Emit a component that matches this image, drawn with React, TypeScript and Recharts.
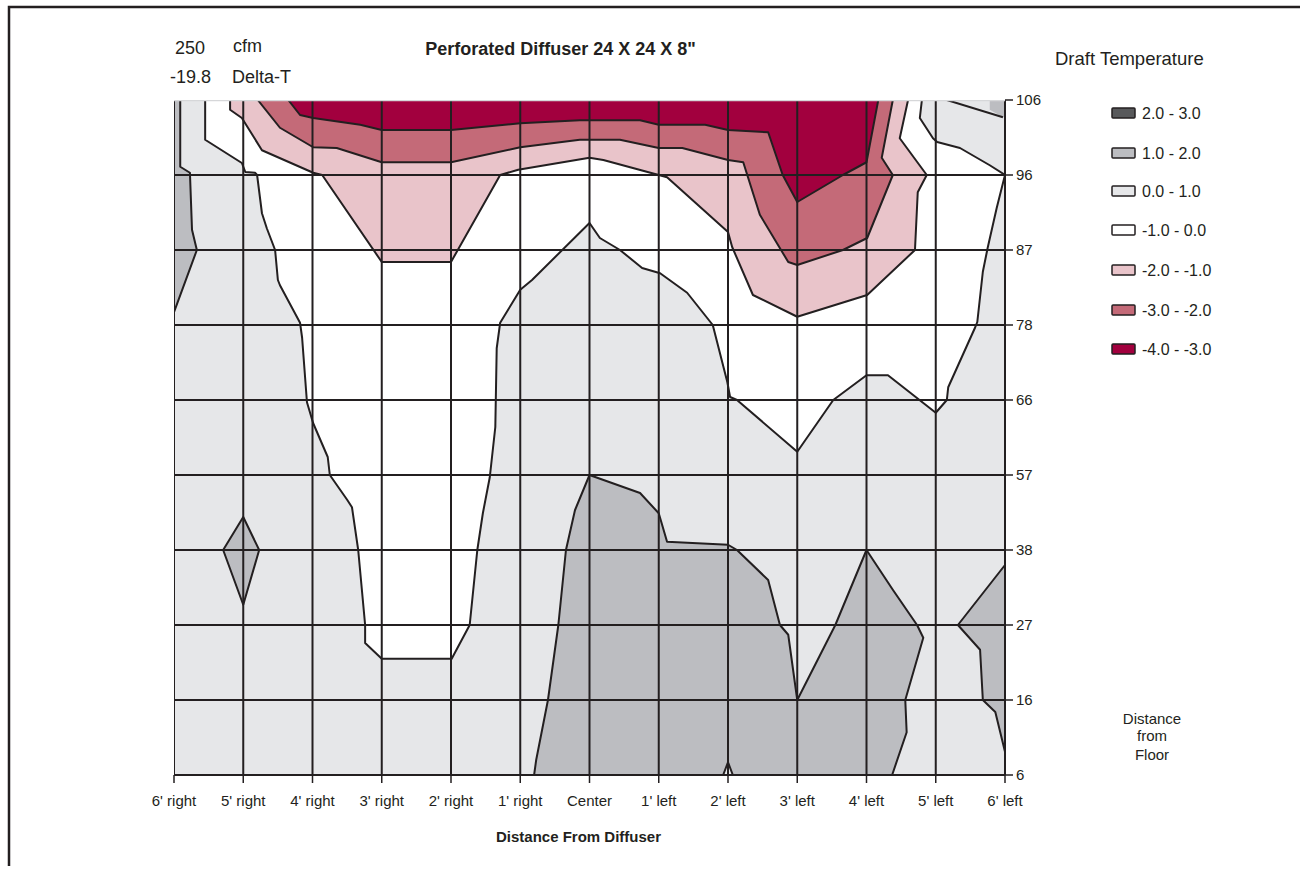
import React from 'react';
import { ComposedChart, Scatter, XAxis, YAxis, Polygon } from 'recharts';

type Pt = [number, number];

// axis categories (x = distance from diffuser, y = distance from floor)
const xLabels = ["6' right", "5' right", "4' right", "3' right", "2' right", "1' right", 'Center', "1' left", "2' left", "3' left", "4' left", "5' left", "6' left"];
const yLabels = ['6', '16', '27', '38', '57', '66', '78', '87', '96', '106'];

const legendLabels = ['2.0 - 3.0', '1.0 - 2.0', '0.0 - 1.0', '-1.0 - 0.0', '-2.0 - -1.0', '-3.0 - -2.0', '-4.0 - -3.0'];

// contour outlines, in (x index, y index) units
const band01: Pt[] = [[0, 0], [12, 0], [12, 9], [0, 9]];

const band12Left: Pt[] = [[0, 9], [0.09, 9], [0.09, 8.11], [0.23, 8.03], [0.26, 7.27], [0.33, 7], [0, 6.17]];
const band12Diamond: Pt[] = [[1, 3.44], [1.23, 3], [1, 2.27], [0.71, 3]];
const band12Center: Pt[] = [
  [5.2, 0], [5.23, 0.2], [5.4, 1], [5.55, 2], [5.66, 3], [5.79, 3.53], [6, 4], [6.73, 3.76], [7, 3.49],
  [7.12, 3.11], [8, 3.07], [8.13, 3], [8.58, 2.6], [8.75, 2], [8.87, 1.87], [9, 1], [9.55, 2], [10, 3],
  [10.38, 2.47], [10.73, 2], [10.82, 1.83], [10.56, 1], [10.58, 0.57], [10.37, 0],
];
const band12Right: Pt[] = [[12, 2.8], [11.32, 2], [11.64, 1.67], [11.68, 1], [11.86, 0.84], [12, 0.31]];
const band12Corner: Pt[] = [[11.78, 9], [12, 9], [12, 8.77], [11.97, 8.77], [11.78, 8.87]];
const cornerEdge: Pt[] = [[11.16, 9], [11.97, 8.77]];

const bandM10: Pt[] = [
  [0.45, 9], [0.45, 8.47], [0.98, 8.16], [1.03, 8.04], [1.17, 8.03], [1.2, 8], [1.27, 7.49], [1.34, 7.29],
  [1.46, 7], [1.5, 6.6], [1.53, 6.53], [1.82, 6.03], [1.85, 5.83], [1.92, 4.97], [2.01, 4.69], [2.22, 4.24],
  [2.25, 4], [2.5, 3.67], [2.57, 3.57], [2.66, 3], [2.76, 2], [2.76, 1.76], [3, 1.55], [4.01, 1.55],
  [4.27, 2], [4.38, 3], [4.46, 3.49], [4.56, 3.97], [4.64, 4.64], [4.66, 5.69], [4.71, 6.03], [5, 6.47],
  [5.17, 6.6], [6, 7.36], [6.15, 7.16], [6.44, 7], [6.76, 6.76], [7.02, 6.69], [7.41, 6.43], [7.78, 6],
  [7.99, 5.24], [8.03, 5.04], [8.13, 5], [9, 4.31], [9.52, 5], [10, 5.33], [10.31, 5.33], [11, 4.83],
  [11.16, 5], [11.18, 5.17], [11.57, 5.97], [11.6, 6.04], [11.68, 6.71], [11.75, 7.03], [11.88, 7.56],
  [12, 8], [11.78, 8.13], [11.35, 8.36], [11.02, 8.44], [10.96, 8.49], [10.77, 8.76], [10.8, 9],
];
const bandM21: Pt[] = [
  [0.81, 9], [0.81, 8.87], [0.98, 8.76], [1.27, 8.33], [2.01, 8.03], [2.14, 8], [3, 6.84], [4, 6.84],
  [4.71, 8], [4.97, 8.07], [6, 8.23], [6.2, 8.2], [7, 8], [7.12, 7.97], [8, 7.24], [8.06, 7.04],
  [8.36, 6.4], [9, 6.11], [10.01, 6.4], [10.7, 7], [10.74, 7.77], [10.87, 8], [10.48, 8.49], [10.6, 9],
];
const bandM32: Pt[] = [
  [1.21, 9], [1.53, 8.63], [2.01, 8.37], [2.35, 8.36], [3, 8.17], [4, 8.17], [5, 8.37], [5.86, 8.47],
  [6.44, 8.47], [7, 8.36], [7.34, 8.36], [8, 8.2], [8.22, 8.17], [8.46, 7.47], [8.87, 6.84], [9, 6.8],
  [9.66, 7], [10.01, 7.16], [10.38, 8], [10.22, 8.23], [10.38, 9],
];
const bandM43: Pt[] = [
  [1.65, 9], [1.82, 8.8], [2.01, 8.76], [2.69, 8.67], [3, 8.6], [4, 8.6], [5, 8.69], [5.86, 8.73],
  [6.73, 8.73], [7, 8.67], [7.67, 8.67], [8, 8.6], [8.58, 8.57], [8.79, 8], [9, 7.64], [9.66, 8],
  [10, 8.17], [10.17, 9],
];
const smallPeak: Pt[] = [[7.93, 0], [8, 0.17], [8.07, 0]];

const INK = '#231f20';
const C = {
  b23: '#58595b',
  b12: '#bcbdc1',
  b01: '#e6e7e9',
  m10: '#ffffff',
  m21: '#e9c4ca',
  m32: '#c46a78',
  m43: '#a2003e',
};
const legendColors = [C.b23, C.b12, C.b01, C.m10, C.m21, C.m32, C.m43];

const toRows = (pts: Pt[]) => pts.map(([x, y]) => ({ x, y }));

const xTicks = xLabels.map((_, i) => i);
const yTicks = yLabels.map((_, i) => i);
const gridPts: Pt[] = [
  ...xTicks.flatMap((i) => [[i, 0], [i, 9]] as Pt[]),
  ...yTicks.filter((j) => j < 9).flatMap((j) => [[0, j], [12, j]] as Pt[]),
];
const topEdge: Pt[] = [[0, 9], [12, 9]];

const polyRenderer = (fill: string, stroke: string) => (p: any) => (
  <Polygon points={p.points} fill={fill} stroke={stroke} strokeWidth={stroke === 'none' ? 0 : 2} strokeLinejoin="round" />
);

const segRenderer = (stroke: string, width: number) => (p: any) => {
  const pts = p.points || [];
  let d = '';
  for (let i = 0; i + 1 < pts.length; i += 2) {
    d += `M${pts[i].x},${pts[i].y}L${pts[i + 1].x},${pts[i + 1].y}`;
  }
  return <path d={d} stroke={stroke} strokeWidth={width} fill="none" />;
};

const noDot = () => <g />;

const layers: { key: string; pts: Pt[]; fill: string; stroke: string }[] = [
  { key: 'b01', pts: band01, fill: C.b01, stroke: 'none' },
  { key: 'b12-left', pts: band12Left, fill: C.b12, stroke: INK },
  { key: 'b12-diamond', pts: band12Diamond, fill: C.b12, stroke: INK },
  { key: 'b12-center', pts: band12Center, fill: C.b12, stroke: INK },
  { key: 'b12-right', pts: band12Right, fill: C.b12, stroke: INK },
  { key: 'b12-corner', pts: band12Corner, fill: C.b12, stroke: 'none' },
  { key: 'm10', pts: bandM10, fill: C.m10, stroke: INK },
  { key: 'm21', pts: bandM21, fill: C.m21, stroke: INK },
  { key: 'm32', pts: bandM32, fill: C.m32, stroke: INK },
  { key: 'm43', pts: bandM43, fill: C.m43, stroke: INK },
  { key: 'peak', pts: smallPeak, fill: C.b01, stroke: INK },
];

const FONT = '"Liberation Sans", Arial, Helvetica, sans-serif';
const legendRowY = [113, 153, 191, 230, 270, 310, 349];

export default function App() {
  return (
    <div
      style={{
        position: 'absolute',
        left: 0,
        top: 0,
        width: 1300,
        height: 866,
        overflow: 'hidden',
        fontFamily: FONT,
        background: '#fff',
      }}
    >
      <div style={{ position: 'absolute', left: 0, top: 0 }}>
        <ComposedChart width={1300} height={866} margin={{ top: 100, left: 174, right: 255, bottom: 61 }}>
          <XAxis
            type="number"
            dataKey="x"
            domain={[0, 12]}
            ticks={xTicks}
            interval={0}
            allowDataOverflow
            tickFormatter={(v: number) => xLabels[v]}
            height={30}
            tickSize={8}
            tickMargin={12}
            axisLine={{ stroke: INK, strokeWidth: 2 }}
            tickLine={{ stroke: INK, strokeWidth: 1.5 }}
            tick={{ fill: INK, fontSize: 15, fontFamily: FONT }}
          />
          <YAxis
            type="number"
            dataKey="y"
            orientation="right"
            domain={[0, 9]}
            ticks={yTicks}
            interval={0}
            allowDataOverflow
            tickFormatter={(v: number) => yLabels[v]}
            width={40}
            tickSize={8}
            tickMargin={3}
            axisLine={{ stroke: INK, strokeWidth: 2 }}
            tickLine={{ stroke: INK, strokeWidth: 1.5 }}
            tick={{ fill: INK, fontSize: 15, fontFamily: FONT, textAnchor: 'start' }}
          />
          {layers.map((l) => (
            <Scatter
              key={l.key}
              data={toRows(l.pts)}
              line={polyRenderer(l.fill, l.stroke)}
              lineType="joint"
              shape={noDot}
              isAnimationActive={false}
            />
          ))}
          <Scatter data={toRows(cornerEdge)} line={segRenderer(INK, 2)} lineType="joint" shape={noDot} isAnimationActive={false} />
          <Scatter data={toRows(gridPts)} line={segRenderer(INK, 2)} lineType="joint" shape={noDot} isAnimationActive={false} />
          <Scatter data={toRows(topEdge)} line={segRenderer('#d6d7d9', 2.5)} lineType="joint" shape={noDot} isAnimationActive={false} />
        </ComposedChart>
      </div>
      <svg
        width={1300}
        height={866}
        style={{ position: 'absolute', left: 0, top: 0, pointerEvents: 'none' }}
        fontFamily={FONT}
        fill={INK}
      >
        {/* page frame */}
        <path d="M9,869V7H1303" stroke={INK} strokeWidth={2.5} fill="none" />
        <text x={175} y={53.5} fontSize={18}>250</text>
        <text x={233} y={52} fontSize={18}>cfm</text>
        <text x={170} y={82.5} fontSize={18}>-19.8</text>
        <text x={232} y={82.5} fontSize={18}>Delta-T</text>
        <text x={560.5} y={54.5} fontSize={18} fontWeight="bold" textAnchor="middle">Perforated Diffuser 24 X 24 X 8"</text>
        <text x={1055} y={64.5} fontSize={18.5}>Draft Temperature</text>
        {legendLabels.map((lab, i) => {
          const cy = legendRowY[i];
          return (
            <g key={lab}>
              <rect x={1112} y={cy - 5} width={23} height={10} rx={1} fill={legendColors[i]} stroke={INK} strokeWidth={1.5} />
              <text x={1142} y={cy + 5.7} fontSize={16}>{lab}</text>
            </g>
          );
        })}
        <text x={1152} y={723.5} fontSize={15} textAnchor="middle">Distance</text>
        <text x={1152} y={741} fontSize={15} textAnchor="middle">from</text>
        <text x={1152} y={759.5} fontSize={15} textAnchor="middle">Floor</text>
        <text x={578.5} y={841.5} fontSize={15} fontWeight="bold" textAnchor="middle">Distance From Diffuser</text>
      </svg>
    </div>
  );
}
